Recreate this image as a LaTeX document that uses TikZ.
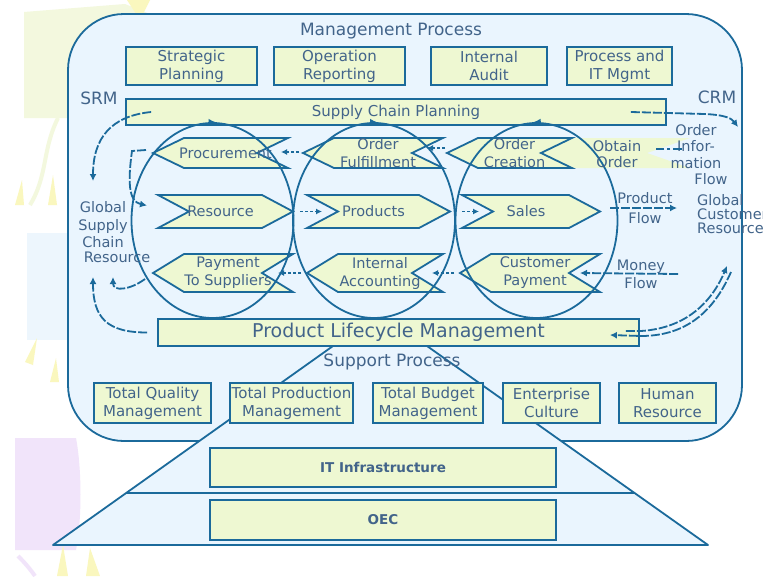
\documentclass[tikz,border=0pt]{standalone}
\usepackage{fontspec}
\setmainfont{DejaVu Sans}
\usetikzlibrary{shapes.geometric,arrows.meta,calc}

\definecolor{bord}{HTML}{1B6A9B}
\definecolor{panel}{HTML}{EAF5FE}
\definecolor{boxfill}{HTML}{EEF8D2}
\definecolor{ink}{HTML}{42648A}
\definecolor{wash}{HTML}{F3F8DE}
\definecolor{lilac}{HTML}{F1E4FA}
\definecolor{sky}{HTML}{EDF6FD}
\definecolor{butter}{HTML}{FAF7BE}

\newcommand\fsz[2]{\fontsize{#1}{#2}\selectfont}

\tikzset{
  lbl/.style={text=ink, align=center, inner sep=0pt},
  box/.style={draw=bord, fill=boxfill, line width=1.8pt, inner sep=0pt,
    text=ink, align=center, font=\fsz{15}{18}},
  chev/.style={draw=bord, fill=boxfill, line width=1.8pt},
  chevtext/.style={lbl, font=\fsz{14.5}{18}},
  cycle ring/.style={draw=bord, line width=1.8pt, ellipse, inner sep=0pt,
    minimum width=162, minimum height=195},
  ringtip/.style={draw=bord, line width=1.8pt, -{Latex[length=7pt,width=7pt]}},
  flow/.style={draw=bord, line width=1.8pt, dash pattern=on 9pt off 2pt,
    -{Latex[length=7pt,width=7pt]}},
  shortflow/.style={draw=bord, line width=1.5pt, dash pattern=on 3pt off 2pt,
    -{Latex[length=6pt,width=6pt]}},
}

% chevron pointing left: name, tip x, right x, top y, bottom y, label
\newcommand\lchev[6]{%
  \path[chev] (#2,{(#4+#5)/2}) -- (#2+31,#4) -- (#3,#4) -- (#3-31,{(#4+#5)/2})
    -- (#3,#5) -- (#2+31,#5) -- cycle;
  \coordinate (#1-tip) at (#2,{(#4+#5)/2});
  \coordinate (#1-notch) at (#3-31,{(#4+#5)/2});
  \node[chevtext] (#1) at ({(#2+#3)/2+5},{(#4+#5)/2}) {#6};}
% chevron pointing right: name, left x, tip x, top y, bottom y, label
\newcommand\rchev[6]{%
  \path[chev] (#2,#4) -- (#3-31,#4) -- (#3,{(#4+#5)/2}) -- (#3-31,#5)
    -- (#2,#5) -- (#2+31,{(#4+#5)/2}) -- cycle;
  \coordinate (#1-tip) at (#3,{(#4+#5)/2});
  \coordinate (#1-notch) at (#2+31,{(#4+#5)/2});
  \node[chevtext] (#1) at ({(#2+#3)/2-5},{(#4+#5)/2}) {#6};}

\begin{document}
\begin{tikzpicture}[x=1pt,y=-1pt]
\useasboundingbox (0,0) rectangle (763,576);
\fill[white] (0,0) rectangle (763,576);

% faint backdrop shapes
\fill[wash] (24,12) -- (125,4) -- (150,14) -- (68,118) -- (24,118) -- cycle;
\draw[wash, line width=4pt] (58,118) .. controls (42,150) and (48,175) .. (30,205);
\fill[sky] (27,233) rectangle (68,340);
\fill[lilac] (15,438) -- (76,438) .. controls (82,470) and (82,520) .. (76,550) -- (15,550) -- cycle;
\draw[lilac, line width=4pt] (35,576) .. controls (28,566) and (22,560) .. (18,556);
\fill[butter] (127,0) -- (150,0) -- (140,20) -- cycle;
\fill[butter] (48,205) -- (53,175) -- (57,205) -- cycle;
\fill[butter] (15,205) -- (22,180) -- (24,205) -- cycle;
\fill[butter] (25,362) -- (37,338) -- (33,365) -- cycle;
\fill[butter] (50,382) -- (56,358) -- (59,382) -- cycle;
\fill[butter] (57,576) -- (63,545) -- (68,576) -- cycle;
\fill[butter] (86,576) -- (90,548) -- (100,576) -- cycle;

% management panel
\node[draw=bord, fill=panel, line width=1.8pt, rounded corners=56pt,
  minimum width=674, minimum height=427, inner sep=0pt] (panel) at (405,227.5) {};

% infrastructure trapezoid
\fill[panel] (333,346) -- (427,346) -- (708,545) -- (53,545) -- cycle;
\draw[bord, line width=1.8pt, line join=round] (333,346) -- (53,545) -- (708,545) -- (427,346);
\draw[bord, line width=1.8pt] (126.2,493) -- (634.4,493);

% support process boxes
\node[box, minimum width=117, minimum height=40] (tqm) at (152.5,403) {Total Quality\\Management};
\node[box, minimum width=123, minimum height=40] (tpm) at (291.5,403) {Total Production\\Management};
\node[box, minimum width=110, minimum height=40] (tbm) at (428,403) {Total Budget\\Management};
\node[box, minimum width=97, minimum height=40] (ec) at (551.5,403) {Enterprise\\Culture};
\node[box, minimum width=97, minimum height=40] (hr) at (667.5,403) {Human\\Resource};
\node[box, minimum width=346, minimum height=39, font=\fsz{13.5}{16}\bfseries] (it) at (383,467.5) {IT Infrastructure};
\node[box, minimum width=346, minimum height=40, font=\fsz{13.5}{16}\bfseries] (oec) at (383,520) {OEC};

% management boxes
\node[box, minimum width=131, minimum height=38] (sp) at (191.5,66) {Strategic\\Planning};
\node[box, minimum width=131, minimum height=38] (or) at (339.5,66) {Operation\\Reporting};
\node[box, minimum width=116, minimum height=38] (ia) at (489,66) {Internal\\Audit};
\node[box, minimum width=105, minimum height=38] (pit) at (619.5,66) {Process and\\IT Mgmt};
\node[box, minimum width=540, minimum height=26] (scp) at (396,112) {Supply Chain Planning};

% obtain order band
\fill[boxfill] (541,153) -- (572,138) -- (690,138) -- (647,153) -- (690,168) -- (572,168) -- cycle;

% chevrons
\lchev{proc}{153}{288}{138}{168}{Procurement}
\lchev{ofu}{303}{443}{138}{168}{Order\\Fulfillment}
\lchev{ocr}{447}{572}{138}{168}{Order\\Creation}
\rchev{res}{158}{293}{195}{228}{Resource}
\rchev{prod}{307}{450}{195}{228}{Products}
\rchev{sales}{462}{600}{195}{228}{Sales}
\lchev{pts}{153}{293}{254}{292}{Payment\\To Suppliers}
\lchev{iac}{307}{443}{254}{292}{Internal\\Accounting}
\lchev{cpa}{460}{600}{254}{292}{Customer\\Payment}

% cycles
\node[cycle ring] (cycL) at (212.5,220.5) {};
\node[cycle ring] (cycM) at (374,220.5) {};
\node[cycle ring] (cycR) at (536.5,220.5) {};
\draw[ringtip] ($(cycL.north)+(-4,0)$) -- ($(cycL.north)+(3,0)$);
\draw[ringtip] ($(cycM.north)+(-4,0)$) -- ($(cycM.north)+(3,0)$);
\draw[ringtip] ($(cycR.north)+(4,0)$) -- ($(cycR.north)+(-3,0)$);

% product lifecycle bar
\node[box, minimum width=481, minimum height=27, font=\fsz{19}{22}] (plm) at (398.5,332.5) {Product Lifecycle Management};

% labels
\node[lbl, font=\fsz{17}{20}] (mp) at (391,31) {Management Process};
\node[lbl, font=\fsz{17}{20}] (srm) at (99,98) {SRM};
\node[lbl, font=\fsz{17}{20}] (crm) at (717,97) {CRM};
\node[lbl, font=\fsz{17}{20}] (spr) at (392,362) {Support Process};
\node[lbl, font=\fsz{14.5}{17.5}] (gsc) at (103,225) {Global\\Supply\\Chain};
\node[lbl, font=\fsz{14.5}{17.5}] (gscr) at (117,257) {Resource};
\node[lbl, font=\fsz{14.5}{16.5}] (oinf) at (696,146.5) {Order\\Infor-\\mation};
\node[lbl, font=\fsz{14.5}{16.5}] (oinff) at (711,179) {Flow};
\node[lbl, font=\fsz{14.5}{14}, align=left, anchor=west] (gcr) at (697,214) {Global\\Customer\\Resource};
\node[lbl, font=\fsz{14.5}{16}] (obt) at (617,154) {Obtain\\Order};
\node[lbl, font=\fsz{14.5}{20}] (pflow) at (645,208) {Product\\Flow};
\node[lbl, font=\fsz{14.5}{18}] (money) at (641,274) {Money\\Flow};

% loose ends of the outer flows
\coordinate (gscTop) at (93,181);
\coordinate (gscIn) at (113,277);
\coordinate (gscLow) at (93,277);
\coordinate (crmEdge) at (738,127);
\coordinate (gcrIn) at (727,266);
\coordinate (gcrOut) at (731,272);
\coordinate (oinfEnd) at (682,149);

% flows between chevrons
\draw[shortflow] ($(res-tip)+(7,0)$) -- ($(prod-notch)+(-16,0)$);
\draw[shortflow] ($(prod-tip)+(12,0)$) -- ($(sales-notch)+(-14,0)$);
\draw[shortflow] ($(ofu-tip)+(-4,-1)$) -- ($(proc-notch)+(24,-1)$);
\draw[shortflow] ($(ocr-tip)+(-2,-5)$) -- ($(ofu-notch)+(15,-5)$);
\draw[shortflow] ($(iac-tip)+(-6,0)$) -- ($(pts-notch)+(16,0)$);
\draw[shortflow] ($(cpa-tip)+(-6,0)$) -- ($(iac-notch)+(20,0)$);
\draw[flow] ($(money)+(37,0)$) -- ($(cpa-notch)+(11,0)$);
\draw[flow] ($(sales-tip)+(10,-3.5)$) -- ($(pflow)+(32,0)$);
\draw[draw=bord, line width=2.2pt, dash pattern=on 9pt off 3pt on 3pt off 3pt] (oinfEnd) -- ($(obt)+(39,-5)$);

% flows to and from the outer resources
\draw[flow] ($(scp.east)+(-36,0)$) -- ($(scp.east)+(38,2)$) .. controls +(22,1) and +(-6,-8) .. (crmEdge);
\draw[flow] ($(scp.west)+(26,0)$) .. controls +(-40,4) and +(0,-43) .. (gscTop);
\draw[flow] ($(proc-tip)+(-7,-3)$) -- ($(proc-tip)+(-21,-2)$) .. controls +(-4,29) and +(-19,-4) .. ($(res-notch)+(-42,-6)$);
\draw[flow] ($(pts-tip)+(-8,6)$) .. controls +(-15,11) and +(0,15) .. (gscIn);
\draw[flow] ($(plm.west)+(-10,0)$) .. controls +(-40,0) and +(0,41) .. (gscLow);
\draw[flow] ($(plm.east)+(-14,-1.5)$) -- ($(plm.east)+(1,-1.5)$) .. controls +(48,-3) and +(-14,33) .. (gcrIn);
\draw[flow] (gcrOut) .. controls +(-15,34) and +(50,0) .. ($(plm.east)+(1,3.5)$) -- ($(plm.east)+(-30,2.5)$);
\end{tikzpicture}
\end{document}
